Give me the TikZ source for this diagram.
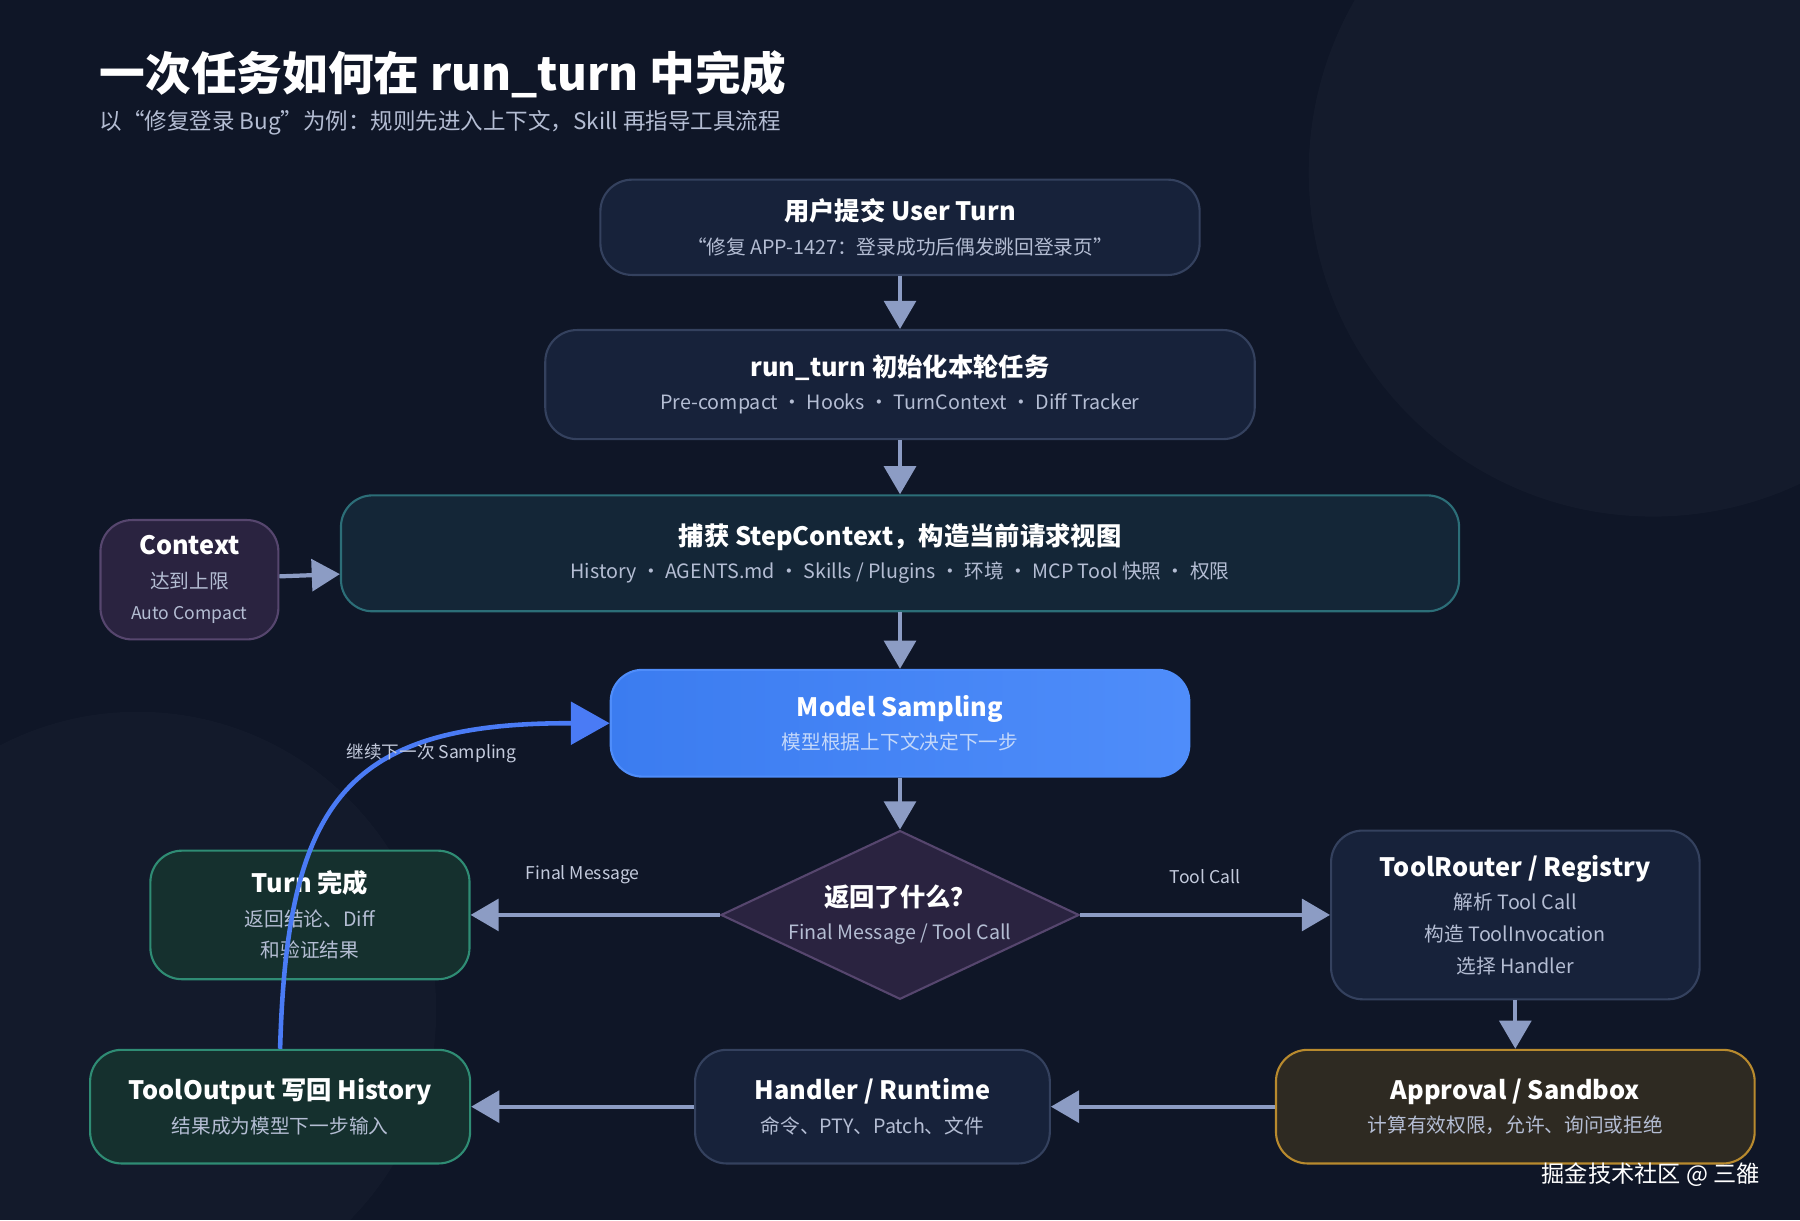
\documentclass[tikz,border=0pt]{standalone}
\usepackage{fontspec}
\setmainfont{Noto Sans CJK SC}
\usetikzlibrary{arrows.meta, positioning, shapes.geometric}
\definecolor{bgnavy}{HTML}{0F1627}
\definecolor{boxfill}{HTML}{17223A}
\definecolor{boxline}{HTML}{34415E}
\definecolor{arrowc}{HTML}{8C9CC4}
\definecolor{subtxt}{HTML}{B4BDD3}
\definecolor{tealline}{HTML}{2C6E78}
\definecolor{tealfill}{HTML}{142637}
\definecolor{greenfill}{HTML}{15302E}
\definecolor{greenline}{HTML}{2F8C74}
\definecolor{blueA}{HTML}{3B7CF0}
\definecolor{blueB}{HTML}{4F8DFA}
\definecolor{purfill}{HTML}{2A2340}
\definecolor{purline}{HTML}{56466E}
\definecolor{goldfill}{HTML}{2E2A22}
\definecolor{goldline}{HTML}{B88A2E}
\definecolor{curveblue}{HTML}{4A7BF5}
\newdimen\pu \pu=0.01148cm
\newcommand{\hd}[1]{{\fontsize{7.2}{9}\selectfont\bfseries #1}}
\newcommand{\sub}[1]{\\[-2.5pt]{\fontsize{5.6}{8}\selectfont\color{subtxt}#1}}
\newcommand{\subl}[1]{\\[-3pt]{\fontsize{5.6}{8}\selectfont\color{subtxt}#1}}

\begin{document}
\begin{tikzpicture}[x=0.01148cm, y=-0.01148cm,
  every node/.style={text=white},
  box/.style={rectangle, rounded corners=9pt, draw=boxline, fill=boxfill, line width=0.6pt, align=center, inner sep=0pt},
  flow/.style={-{Triangle[width=9pt,length=8pt]}, draw=arrowc, line width=1.2pt},
  lbl/.style={font=\fontsize{5}{6}\selectfont, text=subtxt!80},
]
% background
\useasboundingbox (0,0) rectangle (1568,1063);
\fill[bgnavy] (0,0) rectangle (1568,1063);
\begin{scope}
\clip (0,0) rectangle (1568,1063);
\fill[white, opacity=0.025] (1440,150) circle (300);
\fill[white, opacity=0.02] (120,880) circle (260);
\end{scope}

% title
\node[anchor=west, font=\fontsize{13}{16}\selectfont\bfseries] (title) at (76,65) {一次任务如何在 run\_turn 中完成};
\node[anchor=west, font=\fontsize{6.4}{8}\selectfont, text=subtxt] (subtitle) at (76,107) {以“修复登录 Bug”为例：规则先进入上下文，Skill 再指导工具流程};

% nodes
\node[box, minimum width=522\pu, minimum height=83\pu] (user) at (784,198)
  {\hd{用户提交 User Turn}\sub{“修复 APP-1427：登录成功后偶发跳回登录页”}};
\node[box, minimum width=618\pu, minimum height=95\pu] (run) at (784,335)
  {\hd{run\_turn 初始化本轮任务}\sub{Pre-compact · Hooks · TurnContext · Diff Tracker}};
\node[box, draw=tealline, fill=tealfill, minimum width=974\pu, minimum height=101\pu] (step) at (784,482)
  {\hd{捕获 StepContext，构造当前请求视图}\sub{History · AGENTS.md · Skills / Plugins · 环境 · MCP Tool 快照 · 权限}};
\node[box, draw=purline, fill=purfill, minimum width=155\pu, minimum height=104\pu] (ctx) at (165,505)
  {\hd{Context}\sub{达到上限}\\[-3pt]{\fontsize{5}{8}\selectfont\color{subtxt}Auto Compact}};
\node[box, draw=blueB, left color=blueA, right color=blueB, minimum width=504\pu, minimum height=93\pu] (model) at (784,630)
  {\hd{Model Sampling}\\[-2.5pt]{\fontsize{5.6}{8}\selectfont\color{white!70!blueA}模型根据上下文决定下一步}};
\node[diamond, draw=purline, fill=purfill, line width=0.6pt, minimum width=312\pu, minimum height=147\pu, inner sep=0pt] (ask) at (784,797) {};
\node[align=center] (askt) at (ask.center) {\hd{返回了什么？}\sub{Final Message / Tool Call}};
\node[box, draw=greenline, fill=greenfill, minimum width=278\pu, minimum height=112\pu] (done) at (270,797)
  {\hd{Turn 完成}\sub{返回结论、Diff}\subl{和验证结果}};
\node[box, minimum width=321\pu, minimum height=147\pu] (router) at (1320,797)
  {\hd{ToolRouter / Registry}\sub{解析 Tool Call}\subl{构造 ToolInvocation}\subl{选择 Handler}};
\node[box, draw=goldline, fill=goldfill, minimum width=417\pu, minimum height=99\pu] (approve) at (1320,964)
  {\hd{Approval / Sandbox}\sub{计算有效权限，允许、询问或拒绝}};
\node[box, minimum width=309\pu, minimum height=99\pu] (handler) at (760,964)
  {\hd{Handler / Runtime}\sub{命令、PTY、Patch、文件}};
\node[box, draw=greenline, fill=greenfill, minimum width=331\pu, minimum height=99\pu] (output) at (244,964)
  {\hd{ToolOutput 写回 History}\sub{结果成为模型下一步输入}};

% connectors
\draw[flow] (user) -- (run);
\draw[flow] (run) -- (step);
\draw[flow] (ctx) -- (step);
\draw[flow] (step) -- (model);
\draw[flow] (model) -- (ask);
\draw[flow] (ask) -- node[lbl, above=5pt, pos=0.55] {Final Message} (done);
\draw[flow] (ask) -- node[lbl, above=5pt, pos=0.5] {Tool Call} (router);
\draw[flow] (router) -- (approve);
\draw[flow] (approve) -- (handler);
\draw[flow] (handler) -- (output);
\coordinate (loopin) at (model.west);
\draw[-{Triangle[width=12pt,length=11pt]}, draw=curveblue, line width=1.3pt]
  (output.north) .. controls (250,700) and (300,630) .. (495,630) -- (loopin);
\node[lbl] (looplbl) at (376,656) {继续下一次 Sampling};

% watermark
\node[font=\fontsize{6.6}{8}\selectfont, text=white!85] (mark) at (1438,1023) {掘金技术社区 @ 三雒};
\end{tikzpicture}
\end{document}
